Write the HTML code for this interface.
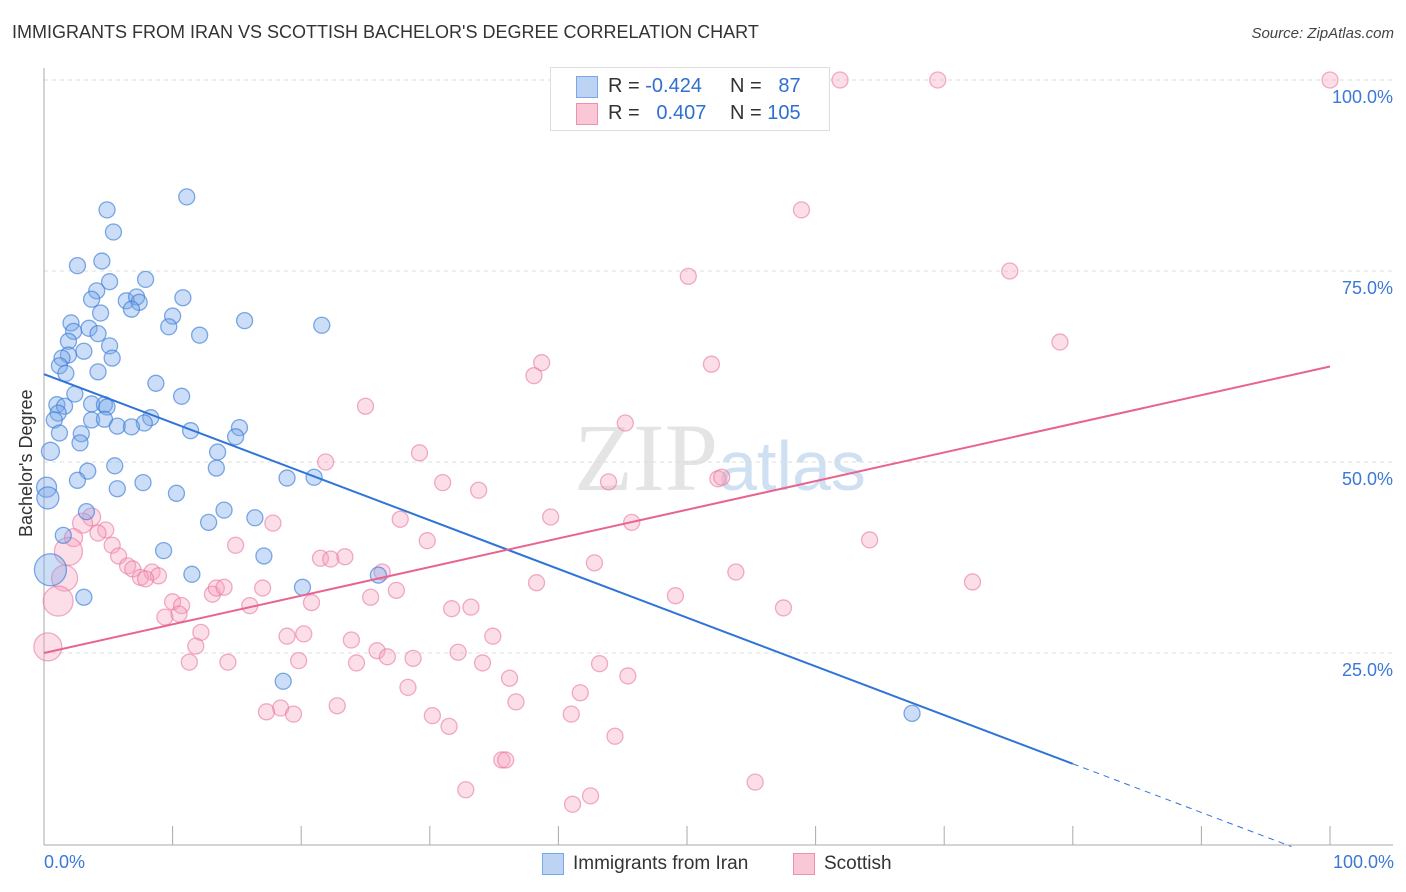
<!DOCTYPE html>
<html><head><meta charset="utf-8"><style>
body{margin:0;background:#fff;font-family:"Liberation Sans",sans-serif;}
#wrap{position:relative;width:1406px;height:892px;overflow:hidden;}
.t{position:absolute;white-space:nowrap;}
</style></head><body>
<div id="wrap">
<div class="t" style="left:12px;top:22px;font-size:18px;color:#333;">IMMIGRANTS FROM IRAN VS SCOTTISH BACHELOR'S DEGREE CORRELATION CHART</div>
<div class="t" style="right:12px;top:25px;font-size:15px;color:#444;font-style:italic;">Source: ZipAtlas.com</div>
<svg id="svg" width="1406" height="892" style="position:absolute;left:0;top:0"></svg>
</div>
<script>
const yTicks=[25,50,75,100];
const yTickLabels=["25.0%","50.0%","75.0%","100.0%"];
const blueX=[4.9,11.1,5.4,2.6,4.5,7.9,5.1,4.1,3.7,6.4,7.2,7.4,10.8,6.8,4.4,10.0,15.6,21.6,2.1,9.7,3.5,2.3,4.2,12.1,1.9,5.1,3.1,1.9,1.4,5.3,1.2,1.7,4.2,8.7,2.4,10.7,1.0,1.6,3.7,4.7,4.9,1.1,0.8,3.7,4.7,8.3,7.8,5.7,6.8,15.2,1.2,2.9,11.4,14.9,2.8,0.5,13.5,5.5,13.4,3.4,2.6,18.9,21.0,7.7,5.7,10.3,0.2,0.3,14.0,3.3,16.4,12.8,1.5,9.3,17.1,11.5,26.0,0.5,20.1,3.1,18.6,67.5];
const blueY=[83.0,84.7,80.1,75.7,76.3,73.9,73.6,72.4,71.3,71.1,71.6,70.9,71.5,70.0,69.5,69.1,68.5,67.9,68.2,67.7,67.5,67.1,66.8,66.6,65.8,65.2,64.5,64.0,63.6,63.6,62.6,61.6,61.8,60.3,58.9,58.6,57.5,57.3,57.6,57.5,57.2,56.4,55.5,55.5,55.6,55.8,55.1,54.7,54.6,54.5,53.8,53.7,54.1,53.3,52.5,51.4,51.3,49.5,49.2,48.8,47.6,47.9,48.0,47.3,46.5,45.9,46.7,45.3,43.7,43.5,42.7,42.1,40.4,38.4,37.7,35.3,35.2,35.9,33.6,32.3,21.3,17.1];
const blueR=[8,8,8,8,8,8,8,8,8,8,8,8,8,8,8,8,8,8,8,8,8,8,8,8,8,8,8,8,8,8,8,8,8,8,8,8,8,8,8,8,8,8,8,8,8,8,8,8,8,8,8,8,8,8,8,9,8,8,8,8,8,8,8,8,8,8,10,11,8,8,8,8,8,8,8,8,8,16,8,8,8,8];
const pinkX=[61.9,69.5,100,58.9,50.1,75.1,79.0,38.7,38.1,51.9,25.0,45.2,29.2,21.9,31.0,33.8,43.9,52.4,52.7,39.4,45.7,27.7,17.8,29.8,64.2,14.9,21.5,22.3,23.4,42.8,53.8,26.3,72.2,38.3,17.0,27.4,25.4,49.1,20.8,16.0,31.7,33.2,57.5,34.9,23.9,18.9,20.2,12.2,11.8,25.9,32.2,26.7,28.7,19.8,24.3,14.3,11.3,34.1,43.2,36.2,45.4,28.3,41.7,36.7,22.8,18.4,17.3,19.4,30.2,41.0,31.5,44.4,35.6,35.9,55.3,32.8,42.5,41.1,3.7,3.0,4.8,4.2,2.3,5.3,1.9,5.8,6.5,6.9,8.4,8.9,7.5,7.9,1.6,1.1,10.0,10.7,13.1,13.4,14.0,9.4,10.5,0.3];
const pinkY=[100,100,100,83.0,74.3,75.0,65.7,63.0,61.3,62.8,57.3,55.1,51.2,50.0,47.3,46.3,47.4,47.8,48.0,42.8,42.1,42.5,42.0,39.7,39.8,39.1,37.4,37.3,37.6,36.8,35.6,35.6,34.3,34.2,33.5,33.2,32.3,32.5,31.6,31.2,30.8,31.0,30.9,27.2,26.7,27.2,27.5,27.7,25.9,25.3,25.1,24.5,24.3,24.0,23.7,23.8,23.8,23.7,23.6,21.7,22.0,20.5,19.8,18.6,18.1,17.8,17.3,17.0,16.8,17.0,15.4,14.1,11.0,11.0,8.1,7.1,6.3,5.2,42.8,42.0,41.1,40.7,40.1,39.1,38.3,37.7,36.4,36.0,35.6,35.1,34.9,34.7,34.8,31.8,31.7,31.2,32.7,33.5,33.6,29.7,30.1,25.8];
const pinkR=[8,8,8,8,8,8,8,8,8,8,8,8,8,8,8,8,8,8,8,8,8,8,8,8,8,8,8,8,8,8,8,8,8,8,8,8,8,8,8,8,8,8,8,8,8,8,8,8,8,8,8,8,8,8,8,8,8,8,8,8,8,8,8,8,8,8,8,8,8,8,8,8,8,8,8,8,8,8,9,10,8,8,9,8,14,8,8,8,8,8,8,8,13,15,8,8,8,8,8,8,8,14];
const blueLine=[61.5,10.5,80];
const pinkLine=[25,62.5];

const L=44,R=1330,T=80,B=844;
const sx=v=>L+(R-L)*v/100, sy=v=>B-(B-T)*v/100;
const svg=document.getElementById('svg');const NS='http://www.w3.org/2000/svg';
function mk(tag,attrs,parent){const e=document.createElementNS(NS,tag);for(const k in attrs)e.setAttribute(k,attrs[k]);(parent||svg).appendChild(e);return e;}
let wm=mk('text',{x:720,y:490,'text-anchor':'middle','font-size':96,'font-family':'Liberation Serif,serif',fill:'#e4e4e4'});


wm.innerHTML='ZIP<tspan font-family="Liberation Sans,sans-serif" font-size="70" fill="#cfe0f3">atlas</tspan>';
yTicks.forEach((t,i)=>{
 let g=mk('line',{x1:L,x2:1393,y1:sy(t),y2:sy(t),stroke:'#ddd','stroke-dasharray':'4,4'});
 
 
 let tx=mk('text',{x:1393,y:sy(t)+23,'text-anchor':'end','font-size':18,fill:'#3b78d8'});
 
 
 tx.textContent=yTickLabels[i];
});
mk('line',{x1:L,x2:L,y1:68,y2:845,stroke:'#aaa'});
mk('line',{x1:L,x2:1393,y1:845,y2:845,stroke:'#aaa'});
for(let i=0;i<=10;i++){let tk=mk('line',{x1:sx(i*10),x2:sx(i*10),y1:826,y2:845,stroke:'#aaa'});
 
 }
function pts(X,Y,Rr,fill,stroke,name){X.forEach((x,i)=>{let c=mk('circle',{cx:sx(x),cy:sy(Y[i]),r:Rr[i],fill:fill,stroke:stroke,'stroke-width':1.3});
 
 });}
pts(pinkX,pinkY,pinkR,'rgba(245,160,188,0.35)','rgba(232,120,160,0.6)','scottish-point');
pts(blueX,blueY,blueR,'rgba(120,168,235,0.38)','rgba(60,125,215,0.65)','iran-point');
let bl=mk('line',{x1:sx(0),y1:sy(blueLine[0]),x2:sx(blueLine[2]),y2:sy(blueLine[1]),stroke:'#2f74d8','stroke-width':2});


const slope=(blueLine[1]-blueLine[0])/blueLine[2];
let bd=mk('line',{x1:sx(blueLine[2]),y1:sy(blueLine[1]),x2:sx(97),y2:sy(blueLine[0]+slope*97),stroke:'#2f74d8','stroke-width':1,'stroke-dasharray':'6,5'});


let pl=mk('line',{x1:sx(0),y1:sy(pinkLine[0]),x2:sx(100),y2:sy(pinkLine[1]),stroke:'#e8648f','stroke-width':2});


</script>
<div class="t" style="left:16px;top:537px;transform:rotate(-90deg);transform-origin:0 0;font-size:18px;color:#333;">Bachelor's Degree</div>
<div class="t" style="left:44px;top:852px;font-size:18px;color:#3b78d8;">0.0%</div>
<div class="t" style="right:12px;top:852px;font-size:18px;color:#3b78d8;">100.0%</div>
<div style="position:absolute;left:550px;top:67px;width:278px;height:62px;border:1px solid #ddd;background:#fff;font-size:20px;">
 <div style="position:absolute;left:25px;top:8px;width:20px;height:20px;background:#bcd3f3;border:1px solid #7aa7e6;"></div>
 <div class="t" style="left:57px;top:7px;color:#333;">R = <span style="color:#2f6fd0">-0.424</span></div>
 <div class="t" style="left:179px;top:7px;color:#333;">N = <span style="color:#2f6fd0">&nbsp;&nbsp;87</span></div>
 <div style="position:absolute;left:25px;top:35px;width:20px;height:20px;background:#f9c7d6;border:1px solid #ec92b0;"></div>
 <div class="t" style="left:57px;top:34px;color:#333;">R = <span style="color:#2f6fd0">&nbsp;&nbsp;0.407</span></div>
 <div class="t" style="left:179px;top:34px;color:#333;">N = <span style="color:#2f6fd0">105</span></div>
</div>
<div style="position:absolute;left:542px;top:853px;width:20px;height:20px;background:#bcd3f3;border:1px solid #7aa7e6;"></div>
<div class="t" style="left:573px;top:853px;font-size:19px;color:#333;">Immigrants from Iran</div>
<div style="position:absolute;left:793px;top:853px;width:20px;height:20px;background:#f9c7d6;border:1px solid #ec92b0;"></div>
<div class="t" style="left:824px;top:853px;font-size:19px;color:#333;">Scottish</div>
</body></html>
